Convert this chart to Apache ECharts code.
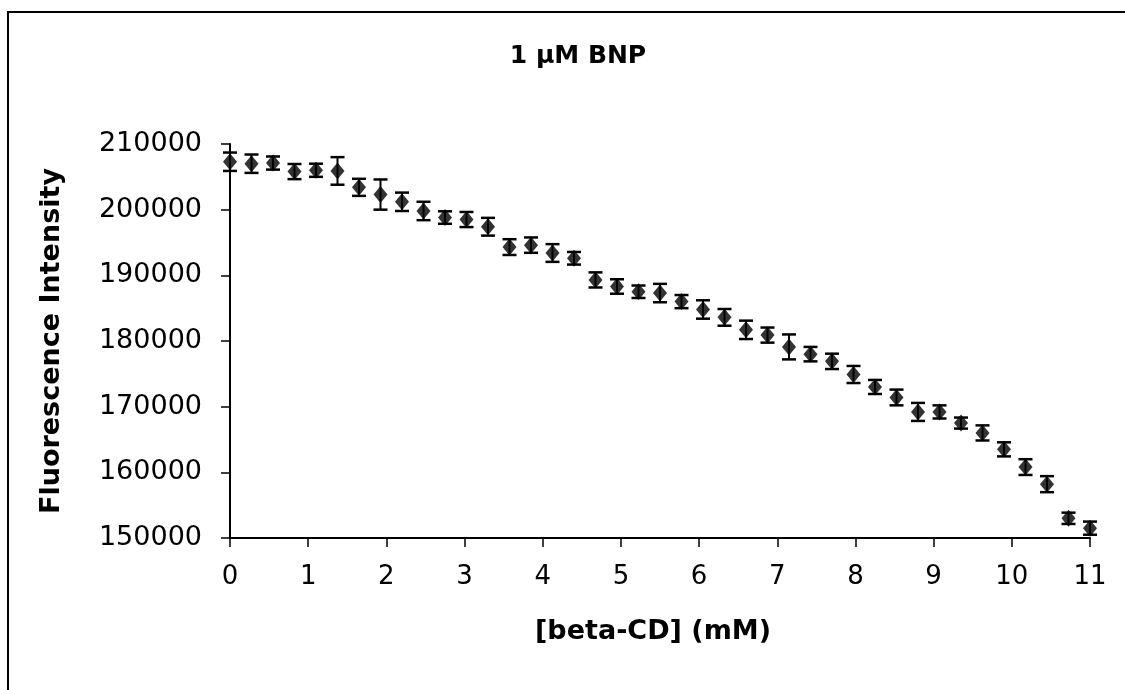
<!DOCTYPE html>
<html>
<head>
<meta charset="utf-8">
<script src="https://cdn.jsdelivr.net/npm/echarts@6/dist/echarts.min.js"></script>
<style>
  html, body { margin: 0; padding: 0; background: #fff; }
  #chart { width: 1125px; height: 690px; }
</style>
</head>
<body>
<div id="chart"></div>
<script>
// beta-CD concentration (mM)
const conc = [0, 0.275, 0.55, 0.825, 1.1, 1.375, 1.65, 1.925, 2.2, 2.475, 2.75,
  3.025, 3.3, 3.575, 3.85, 4.125, 4.4, 4.675, 4.95, 5.225, 5.5,
  5.775, 6.05, 6.325, 6.6, 6.875, 7.15, 7.425, 7.7, 7.975, 8.25,
  8.525, 8.8, 9.075, 9.35, 9.625, 9.9, 10.175, 10.45, 10.725, 11]
// fluorescence intensity
const intensity = [207300, 207000, 207100, 205800, 206000, 205900, 203400, 202300, 201200, 199800, 198800,
  198500, 197400, 194300, 194600, 193400, 192600, 189300, 188300, 187500, 187300,
  186000, 184800, 183600, 181700, 180900, 179100, 178000, 176900, 174900, 173000,
  171400, 169200, 169200, 167500, 166000, 163500, 160800, 158200, 153000, 151500]
// error (+/-)
const errs = [1400, 1400, 1000, 1150, 1000, 2100, 1300, 2300, 1400, 1400, 950,
  1150, 1350, 1200, 1170, 1350, 960, 1150, 1100, 950, 1400,
  1000, 1400, 1270, 1400, 1150, 1900, 1100, 1170, 1300, 1070,
  1200, 1370, 1000, 840, 1150, 1070, 1200, 1220, 860, 1000]

const pts = conc.map((x, i) => [x, intensity[i]])
const bars = conc.map((x, i) => [x, intensity[i] - errs[i], intensity[i] + errs[i]])

const chart = echarts.init(document.getElementById('chart'))
const font = 'DejaVu Sans'

chart.setOption({
  animation: false,
  backgroundColor: '#fff',
  title: {
    text: '1 µM BNP',
    left: 573,
    top: 39,
    textAlign: 'center',
    textStyle: { fontFamily: font, fontWeight: 'bold', fontSize: 25, color: '#000' }
  },
  graphic: [
    {
      type: 'polyline',
      shape: { points: [[8, 690], [8, 12], [1125, 12]] },
      style: { stroke: '#000', lineWidth: 2, fill: null }
    }
  ],
  grid: { left: 230, right: 35, top: 144, bottom: 152 },
  xAxis: {
    type: 'value',
    min: 0,
    max: 11,
    interval: 1,
    name: '[beta-CD] (mM)',
    nameLocation: 'middle',
    nameGap: 80,
    nameTextStyle: { fontFamily: font, fontWeight: 'bold', fontSize: 27, color: '#000', padding: [0, 14, 0, 0] },
    axisLine: { onZero: false, lineStyle: { color: '#000', width: 2 } },
    axisTick: { length: 9, lineStyle: { color: '#000', width: 1.5 } },
    axisLabel: { margin: 26, fontFamily: font, fontSize: 26, color: '#000' },
    splitLine: { show: false }
  },
  yAxis: {
    type: 'value',
    min: 150000,
    max: 210000,
    interval: 10000,
    name: 'Fluorescence Intensity',
    nameLocation: 'middle',
    nameGap: 165,
    nameTextStyle: { fontFamily: font, fontWeight: 'bold', fontSize: 27, color: '#000' },
    axisLine: { show: true, lineStyle: { color: '#000', width: 2 } },
    axisTick: { show: true, length: 9, lineStyle: { color: '#000', width: 1.5 } },
    axisLabel: { margin: 28, fontFamily: font, fontSize: 27, color: '#000', formatter: v => String(v) },
    splitLine: { show: false }
  },
  series: [
    {
      type: 'custom',
      data: bars,
      z: 3,
      renderItem: function (params, api) {
        const x = api.value(0)
        const lo = api.coord([x, api.value(1)])
        const hi = api.coord([x, api.value(2)])
        const hw = 7
        const st = { stroke: '#000', lineWidth: 2.5 }
        return {
          type: 'group',
          children: [
            { type: 'line', shape: { x1: hi[0], y1: hi[1], x2: lo[0], y2: lo[1] }, style: { stroke: '#000', lineWidth: 2 } },
            { type: 'line', shape: { x1: hi[0] - hw, y1: hi[1], x2: hi[0] + hw, y2: hi[1] }, style: st },
            { type: 'line', shape: { x1: lo[0] - hw, y1: lo[1], x2: lo[0] + hw, y2: lo[1] }, style: st }
          ]
        }
      }
    },
    {
      type: 'scatter',
      data: pts,
      z: 4,
      symbol: 'diamond',
      symbolSize: [14, 17],
      itemStyle: { color: '#000' }
    }
  ]
})
</script>
</body>
</html>
